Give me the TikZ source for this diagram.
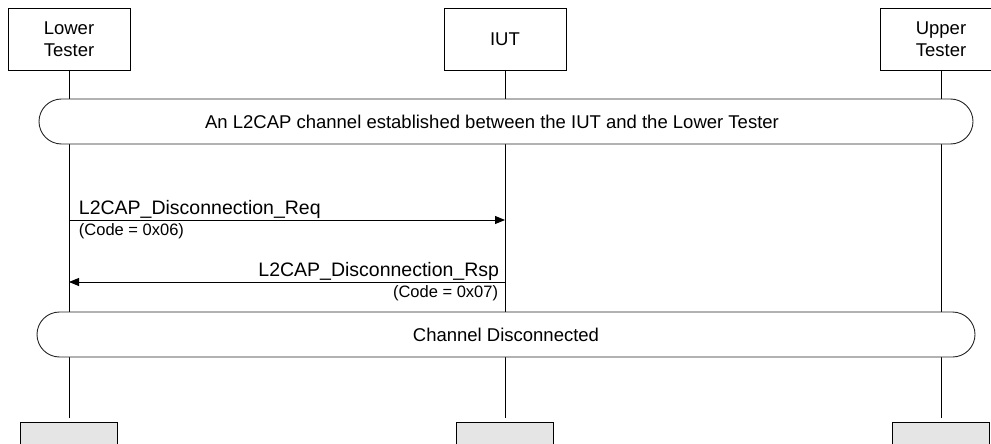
\documentclass[tikz,border=0pt]{standalone}
\usepackage{fontspec}
\setmainfont{Liberation Sans}
\usetikzlibrary{positioning,arrows.meta,calc}

\begin{document}
\begin{tikzpicture}[
  x=1pt, y=-1pt,
  font=\fontsize{18.5}{21.5}\selectfont,
  entity/.style={
    rectangle,
    draw=black,
    line width=0.9pt,
    minimum width=122pt,
    minimum height=62pt,
    align=center,
    inner sep=2pt
  },
  endbox/.style={rectangle, draw=black, fill=black!10, line width=1pt,
    minimum width=97pt, minimum height=40pt},
  lifeline/.style={line width=0.9pt, black, shorten >=4pt},
  phase/.style={
    rectangle, rounded corners=22.5pt,
    draw=black!85, fill=white, line width=0.9pt,
    minimum height=45pt, inner sep=2pt
  },
  msg/.style={-{Triangle[length=10pt,width=8pt]}, line width=0.9pt, black},
  msglabel/.style={font=\fontsize{19.5}{22}\selectfont, inner sep=1.5pt},
  codelabel/.style={font=\fontsize{16.5}{19}\selectfont, inner sep=1.5pt}
]
\clip (0,0) rectangle (991,444);

% --- Entities ---
\node[entity] (lt)  at (69,39)  {Lower\\Tester};
\node[entity] (iut) at (505,39) {IUT};
\node[entity] (ut)  at (941,39) {Upper\\Tester};

\node[endbox] (ltb)  at (69,442)  {};
\node[endbox] (iutb) at (505,442) {};
\node[endbox] (utb)  at (941,442) {};

% --- Lifelines ---
\draw[lifeline] (lt)  -- (ltb);
\draw[lifeline] (iut) -- (iutb);
\draw[lifeline] (ut)  -- (utb);

% --- Phases ---
\node[phase, minimum width=934pt] (open) at (506,121.5) {};
\node (opentxt) at ($(open.center)+(-14,0)$)
  {An L2CAP channel established between the IUT and the Lower Tester};
\node[phase, minimum width=938pt] (closed) at (506,334.5)
  {Channel Disconnected};

% --- Messages ---
\coordinate (req) at (0,220);
\coordinate (rsp) at (0,282);

\draw[msg] (lt |- req) -- (iut |- req)
  node[msglabel, pos=0, anchor=south west, xshift=8pt] (reqlbl) {L2CAP\_Disconnection\_Req}
  node[codelabel, pos=0, anchor=north west, xshift=8pt, yshift=-2pt] (reqcode) {(Code = 0x06)};
\draw[msg] (iut |- rsp) -- (lt |- rsp)
  node[msglabel, pos=0, anchor=south east, xshift=-4pt] (rsplbl) {L2CAP\_Disconnection\_Rsp}
  node[codelabel, pos=0, anchor=north east, xshift=-5pt, yshift=-2pt] (rspcode) {(Code = 0x07)};

\end{tikzpicture}
\end{document}
